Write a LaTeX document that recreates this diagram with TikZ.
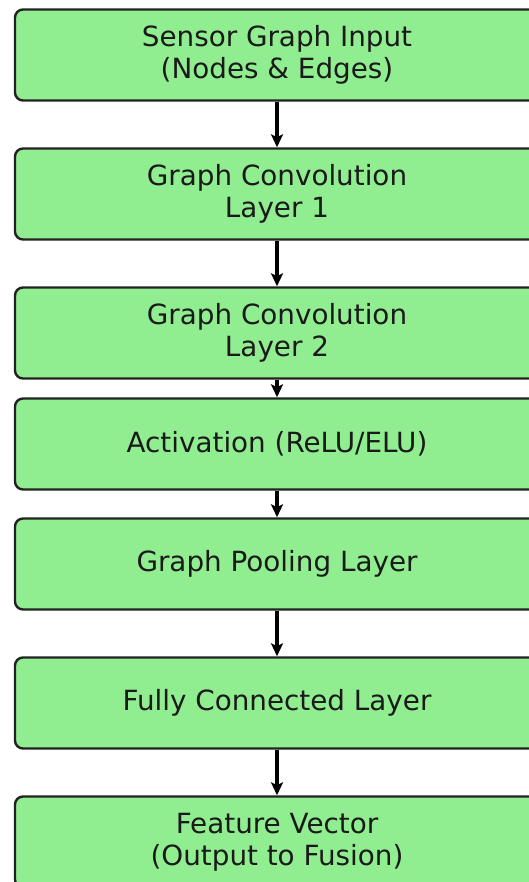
\documentclass[tikz,border=0pt]{standalone}
\usepackage{fontspec}
\setmainfont{DejaVu Sans}
\usetikzlibrary{arrows.meta}
\definecolor{boxgreen}{HTML}{90EE90}
\definecolor{boxedge}{HTML}{222222}
\definecolor{ink}{HTML}{1A1A1A}
\begin{document}
\begin{tikzpicture}[x=1pt,y=-1pt,
  stage/.style={draw=boxedge, line width=2.4pt, fill=boxgreen, rounded corners=8pt,
    minimum width=524pt, minimum height=91pt, align=center, text=ink,
    font=\fontsize{27.8}{32}\selectfont, inner sep=0pt},
  flow/.style={line width=3.4pt, black, -{Stealth[length=13pt,width=12pt,inset=3pt]}}]
\useasboundingbox (0,0) rectangle (528,882);
\node[stage] (b1) at (277,55)  {Sensor Graph Input\\(Nodes \& Edges)};
\node[stage] (b2) at (277,194) {Graph Convolution\\Layer 1};
\node[stage] (b3) at (277,333) {Graph Convolution\\Layer 2};
\node[stage] (b4) at (277,444) {Activation (ReLU/ELU)};
\node[stage] (b5) at (277,564) {Graph Pooling Layer};
\node[stage] (b6) at (277,703) {Fully Connected Layer};
\node[stage] (b7) at (277,842) {Feature Vector\\(Output to Fusion)};
\foreach \a/\b in {b1/b2,b2/b3,b3/b4,b4/b5,b5/b6,b6/b7}
  \draw[flow] (\a.south) -- (\b.north);
\end{tikzpicture}
\end{document}
